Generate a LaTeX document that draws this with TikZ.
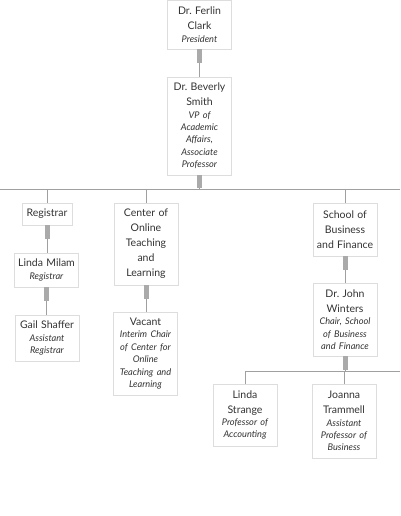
\documentclass[tikz,border=0pt]{standalone}
\usepackage{fontspec}
\setmainfont{Lato}
\usepackage{xcolor}
\usepackage{tikz}
\usetikzlibrary{calc}
\frenchspacing

\definecolor{boxline}{HTML}{DDDDDD}
\definecolor{barcol}{HTML}{AAAAAA}
\definecolor{linkcol}{HTML}{A0A0A0}
\definecolor{txt}{HTML}{333333}

\newcommand{\namefont}{\fontsize{10.5}{15}\selectfont\centering}
\newcommand{\titlefont}{\fontsize{9.2}{12.4}\selectfont\itshape\centering}
\newcommand{\role}[2]{{\namefont #1\par}{\titlefont #2\par}}

\begin{document}
\begin{tikzpicture}[x=1pt,y=-1pt,
  box/.style={draw=boxline, fill=white, text=txt, align=center,
    inner sep=2pt, text width=60pt, minimum width=64pt},
  bar/.style={draw=barcol, line width=5pt},
  link/.style={draw=linkcol, line width=0.9pt}]
\useasboundingbox (0,0) rectangle (400,516);

% Top of the chart
\node[box, minimum height=49pt] (clark) at (199.5,24.5)
  {\role{Dr. Ferlin\\Clark}{President}};
\node[box, minimum height=98pt] (smith) at (199.5,126)
  {\role{Dr. Beverly\\Smith}{VP of\\Academic\\Affairs,\\Associate\\Professor}};

% Units
\node[box, minimum height=22pt, text width=46pt, minimum width=50pt] (registrar) at (47,214)
  {{\namefont Registrar\par}};
\node[box, minimum height=82pt] (center) at (146,244)
  {{\namefont Center of\\Online\\Teaching\\and\\Learning\par}};
\node[box, minimum height=53pt] (school) at (345,229.5)
  {{\namefont School of\\Business\\and Finance\par}};

% People
\node[box, minimum height=34pt] (milam) at (46.5,270)
  {\role{Linda Milam}{Registrar}};
\node[box, minimum height=46pt] (shaffer) at (47,338)
  {\role{Gail Shaffer}{Assistant\\Registrar}};
\node[box, minimum height=83pt] (vacant) at (145.5,353.5)
  {\role{Vacant}{Interim Chair\\of Center for\\Online\\Teaching and\\Learning}};
\node[box, minimum height=73pt] (winters) at (345,319.5)
  {\role{Dr. John\\Winters}{Chair, School\\of Business\\and Finance}};
\node[box, minimum height=62pt] (strange) at (245,415)
  {\role{Linda\\Strange}{Professor of\\Accounting}};
\node[box, minimum height=74pt] (trammell) at (344,421)
  {\role{Joanna\\Trammell}{Assistant\\Professor of\\Business}};

% Buses
\coordinate (busA) at (0,189);
\coordinate (busB) at (400,189);
\coordinate (busC) at (245,371);
\coordinate (busD) at (400,371);
\draw[link] (busA) -- (busB);
\draw[link] (busC) -- (busD);

% Connectors
\draw[link] (clark.south) -- (smith.north);
\draw[bar] (clark.south) -- ++(0,14);
\draw[link] (smith.south) -- (smith.south |- busA);
\draw[bar] (smith.south) -- ++(0,13);
\foreach \n in {registrar,center,school}
  \draw[link] (\n.north |- busA) -- (\n.north);
\foreach \a/\b in {registrar/milam,milam/shaffer,center/vacant,school/winters}{
  \draw[link] (\a.south) -- (\a.south |- \b.north);
  \draw[bar] (\a.south) -- ++(0,14);
}
\draw[link] (winters.south) -- (winters.south |- busC);
\draw[bar] (winters.south) -- ++(0,14);
\foreach \n in {strange,trammell}
  \draw[link] (\n.north |- busC) -- (\n.north);
\end{tikzpicture}
\end{document}
